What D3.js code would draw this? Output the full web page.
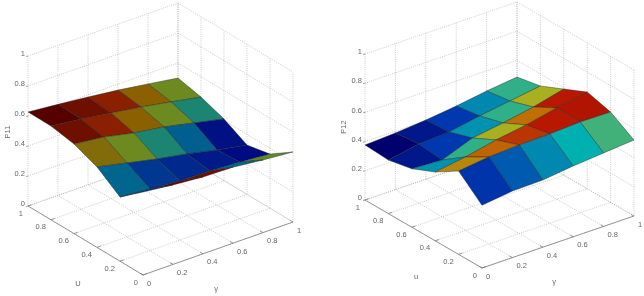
<!DOCTYPE html>
<html>
<head>
<meta charset="utf-8">
<script src="https://cdn.jsdelivr.net/npm/d3@7"></script>
<style>
    html, body { margin: 0; padding: 0; background: #fff; }
    svg { display: block; filter: blur(0.4px); }
    text { font-family: "Liberation Sans", Arial, sans-serif; font-size: 7.5px; fill: #666; }
</style>
</head>
<body>
<div id="chart"></div>
<script>
// grid of both surfaces, rows run from u=1 down to u=0
const uValues = [1, 0.8, 0.6, 0.4, 0.2, 0];
const yValues = [0, 0.2, 0.4, 0.6, 0.8, 1];
const zTicks = [0, 0.2, 0.4, 0.6, 0.8, 1];
const uTicks = [0, 0.2, 0.4, 0.6, 0.8, 1];
const yTicks = [0, 0.2, 0.4, 0.6, 0.8, 1];

const p11Values = [
    [0.627, 0.607, 0.585, 0.561, 0.531, 0.500],
    [0.625, 0.601, 0.571, 0.540, 0.503, 0.465],
    [0.597, 0.573, 0.529, 0.499, 0.455, 0.411],
    [0.536, 0.492, 0.448, 0.411, 0.367, 0.329],
    [0.428, 0.411, 0.393, 0.389, 0.379, 0.361],
    [0.553, 0.530, 0.512, 0.507, 0.484, 0.467]
];
const p12Values = [
    [0.377, 0.388, 0.405, 0.430, 0.462, 0.486],
    [0.367, 0.405, 0.416, 0.455, 0.486, 0.518],
    [0.400, 0.389, 0.468, 0.500, 0.538, 0.590],
    [0.471, 0.503, 0.548, 0.580, 0.625, 0.663],
    [0.571, 0.596, 0.607, 0.611, 0.622, 0.619],
    [0.430, 0.456, 0.460, 0.485, 0.503, 0.520]
];

// colour value of each patch
const p11Cells = [
    [1, 0.93, 0.85, 0.7, 0.56],
    [0.93, 0.85, 0.7, 0.56, 0.42],
    [0.66, 0.56, 0.42, 0.28, 0.05],
    [0.3, 0.16, 0.12, 0.08, 0.03],
    [0.14, 0.96, 0.93, 0.3, 0.54]
];
const p12Cells = [
    [0, 0.06, 0.14, 0.28, 0.42],
    [0.06, 0.14, 0.3, 0.42, 0.56],
    [0.3, 0.42, 0.56, 0.7, 0.85],
    [0.65, 0.72, 0.8, 0.85, 0.87],
    [0.13, 0.2, 0.28, 0.35, 0.44]
];

const colorStops = [0, 0.14, 0.28, 0.35, 0.42, 0.56, 0.7, 0.85, 1];
const darkColors = ["#00007e", "#003090", "#005f8e", "#00788a", "#1b8572", "#6c8a20", "#8a6000", "#8a2000", "#560000"];
const brightColors = ["#00006e", "#0038b0", "#0088b0", "#00b0b0", "#30b088", "#a8b020", "#c07000", "#b81800", "#800000"];

const width = 644;
const height = 296;

const svg = d3.select("#chart").append("svg")
    .attr("width", width)
    .attr("height", height);

function drawPanel(opts) {
    const g = svg.append("g");

    const xFromU = d3.scaleLinear().domain([0, 1]).range([0, opts.uDx]);
    const xFromY = d3.scaleLinear().domain([0, 1]).range([0, opts.yDx]);
    const pyFromU = d3.scaleLinear().domain([0, 1]).range([0, opts.uDy]);
    const pyFromY = d3.scaleLinear().domain([0, 1]).range([0, opts.yDy]);
    const pyFromZ = d3.scaleLinear().domain([0, 1]).range([0, -opts.zH]);
    const color = d3.scaleLinear().domain(colorStops).range(opts.colors);

    function project(u, y, z) {
        return [
            opts.x0 + xFromU(u) + xFromY(y),
            opts.y0 + pyFromU(u) + pyFromY(y) + pyFromZ(z)
        ];
    }

    function line3(a, b, cls) {
        const p = project(a[0], a[1], a[2]);
        const q = project(b[0], b[1], b[2]);
        const l = g.append("line")
            .attr("x1", p[0]).attr("y1", p[1])
            .attr("x2", q[0]).attr("y2", q[1]);
        if (cls === "grid") {
            l.attr("stroke", "#a8a8a8").attr("stroke-width", 0.6).attr("stroke-dasharray", "1 1.2");
        } else {
            l.attr("stroke", "#808080").attr("stroke-width", 0.8);
        }
    }

    // back walls
    zTicks.forEach(z => {
        line3([1, 0, z], [1, 1, z], "grid");
        line3([1, 1, z], [0, 1, z], "grid");
    });
    yTicks.forEach(y => line3([1, y, 0], [1, y, 1], "grid"));
    uTicks.forEach(u => line3([u, 1, 0], [u, 1, 1], "grid"));

    // floor
    yTicks.forEach(y => line3([0, y, 0], [1, y, 0], "grid"));
    uTicks.forEach(u => line3([u, 0, 0], [u, 1, 0], "grid"));

    // axes and ticks
    line3([0, 0, 0], [1, 0, 0], "axis");
    line3([0, 0, 0], [0, 1, 0], "axis");
    uTicks.forEach(u => line3([u, 0, 0], [u, 0.025, 0], "axis"));
    yTicks.forEach(y => line3([0, y, 0], [0.025, y, 0], "axis"));
    zTicks.forEach(z => {
        const p = project(1, 0, z);
        g.append("line")
            .attr("x1", p[0]).attr("y1", p[1])
            .attr("x2", p[0] - 2).attr("y2", p[1] + 0.5)
            .attr("stroke", "#808080").attr("stroke-width", 0.7);
    });

    // patches, far ones first so the near ones paint over them
    const patches = [];
    opts.cells.forEach((row, i) => {
        row.forEach((c, j) => {
            patches.push({
                c: c,
                depth: uValues[i] + yValues[j],
                corners: [
                    project(uValues[i], yValues[j], opts.values[i][j]),
                    project(uValues[i], yValues[j + 1], opts.values[i][j + 1]),
                    project(uValues[i + 1], yValues[j + 1], opts.values[i + 1][j + 1]),
                    project(uValues[i + 1], yValues[j], opts.values[i + 1][j])
                ]
            });
        });
    });
    patches.sort((a, b) => b.depth - a.depth);

    g.selectAll("path.patch")
        .data(patches)
        .enter()
        .append("path")
        .attr("class", "patch")
        .attr("d", d => "M" + d.corners.join("L") + "Z")
        .attr("fill", d => color(d.c))
        .attr("stroke", "#1c2320")
        .attr("stroke-opacity", 0.8)
        .attr("stroke-width", 0.5)
        .attr("stroke-linejoin", "round");

    // tick labels
    zTicks.forEach(z => {
        const p = project(1, 0, z);
        g.append("text")
            .attr("x", p[0] - 3)
            .attr("y", p[1] - 2.5)
            .attr("dy", "0.35em")
            .attr("text-anchor", "end")
            .text(z);
    });
    uTicks.forEach(u => {
        const p = project(u, 0, 0);
        g.append("text")
            .attr("x", p[0] - 5)
            .attr("y", p[1] + 7)
            .attr("dy", "0.35em")
            .attr("text-anchor", "end")
            .text(u);
    });
    yTicks.forEach(y => {
        const p = project(0, y, 0);
        g.append("text")
            .attr("x", p[0] + 4)
            .attr("y", p[1] + 8)
            .attr("dy", "0.35em")
            .attr("text-anchor", "start")
            .text(y);
    });

    // axis titles
    g.append("text").attr("x", opts.uLabel[0]).attr("y", opts.uLabel[1])
        .attr("dy", "0.35em").attr("text-anchor", "middle").text(opts.uText);
    g.append("text").attr("x", opts.yLabel[0]).attr("y", opts.yLabel[1])
        .attr("dy", "0.35em").attr("text-anchor", "middle").text("γ");
    g.append("text")
        .attr("transform", "translate(" + opts.zLabel[0] + "," + opts.zLabel[1] + ") rotate(-90)")
        .attr("dy", "0.35em").attr("text-anchor", "middle").text(opts.zText);
}

drawPanel({
    x0: 143, y0: 275, uDx: -115, uDy: -69, yDx: 150, yDy: -53, zH: 150,
    values: p11Values, cells: p11Cells, colors: darkColors,
    uText: "U", zText: "P11",
    uLabel: [78, 283], yLabel: [216, 288], zLabel: [7, 132]
});

drawPanel({
    x0: 482, y0: 268, uDx: -117, uDy: -68, yDx: 152, yDy: -52, zH: 146,
    values: p12Values, cells: p12Cells, colors: brightColors,
    uText: "u", zText: "P12",
    uLabel: [416, 276], yLabel: [554, 281], zLabel: [343, 127]
});
</script>
</body>
</html>
